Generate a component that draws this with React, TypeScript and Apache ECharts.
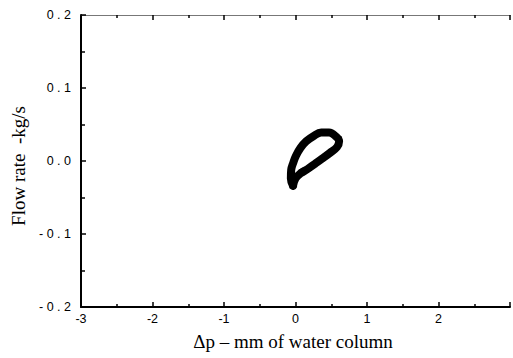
import React, { useEffect, useRef } from "react";
import * as echarts from "echarts";

// Pressure difference (mm of water column) and flow rate (kg/s) around one hysteresis loop
const deltaP = [
  -0.035, -0.065, -0.06, -0.03, 0.005, 0.07, 0.15, 0.25, 0.36, 0.47, 0.56, 0.61,
  0.58, 0.48, 0.37, 0.27, 0.17, 0.07, 0.0, -0.035,
];
const flowRate = [
  -0.034, -0.024, -0.012, -0.002, 0.007, 0.018, 0.027, 0.034, 0.039, 0.039, 0.034,
  0.027, 0.019, 0.011, 0.003, -0.004, -0.011, -0.017, -0.024, -0.034,
];

// Short stray traces off the loop (null breaks them into separate strokes)
const spurX = [0.04, 0.17, null, 0.58, 0.65, null, 0.57, 0.64];
const spurY = [-0.013, -0.007, null, 0.030, 0.033, null, 0.022, 0.021];

const xTicks = [-3, -2, -1, 0, 1, 2];
const yTicks = [-0.2, -0.1, 0.0, 0.1, 0.2];

const spaced = (s: string) => s.split("").join(" ");

export default function App() {
  const ref = useRef<HTMLDivElement>(null);

  useEffect(() => {
    if (!ref.current) return;
    const chart = echarts.init(ref.current, null, { renderer: "svg" });
    const loop = deltaP.map((x, i) => [x, flowRate[i]]);
    const spurs = spurX.map((x, i) => (x === null ? [null, null] : [x, spurY[i]]));
    const tickFont = { fontFamily: "Liberation Sans, Arial, sans-serif", fontSize: 12.5, color: "#000" };
    const titleFont = { fontFamily: "Liberation Serif, Times New Roman, serif", fontSize: 19, color: "#000" };

    chart.setOption({
      animation: false,
      backgroundColor: "#fff",
      grid: { left: 81, top: 15, bottom: 51, right: -7 },
      xAxis: [
        {
          type: "value",
          position: "bottom",
          min: -3,
          max: 3,
          interval: 1,
          name: "Δp – mm of water column",
          nameLocation: "middle",
          nameGap: 25,
          nameTextStyle: { ...titleFont, padding: [0, 5, 0, 0] },
          axisLine: { onZero: false, lineStyle: { color: "#000", width: 2 } },
          axisTick: { inside: true, length: 5, lineStyle: { color: "#000", width: 1.5 } },
          minorTick: { show: true, splitNumber: 2, length: 3, lineStyle: { color: "#000", width: 1.5 } },
          axisLabel: {
            ...tickFont,
            margin: 5,
            formatter: (v: number) => (xTicks.includes(v) ? String(v) : ""),
          },
          splitLine: { show: false },
        },
        {
          type: "value",
          position: "top",
          min: -3,
          max: 3,
          interval: 1,
          axisLine: { onZero: false, lineStyle: { color: "#777", width: 1 } },
          axisTick: { inside: true, length: 5, lineStyle: { color: "#000", width: 1.5 } },
          minorTick: { show: true, splitNumber: 2, length: 3, lineStyle: { color: "#000", width: 1.5 } },
          axisLabel: { show: false },
          splitLine: { show: false },
        },
      ],
      yAxis: {
        type: "value",
        min: -0.2,
        max: 0.2,
        interval: 0.1,
        name: "Flow rate  -kg/s",
        nameLocation: "middle",
        nameGap: 42,
        nameTextStyle: { ...titleFont, padding: [0, 10, 0, 0] },
        axisLine: { onZero: false, lineStyle: { color: "#000", width: 2 } },
        axisTick: { inside: true, length: 5, lineStyle: { color: "#000", width: 1.5 } },
        minorTick: { show: true, splitNumber: 2, length: 4, lineStyle: { color: "#000", width: 1.5 } },
        axisLabel: {
          ...tickFont,
          margin: 10,
          formatter: (v: number) => {
            const t = yTicks.find((y) => Math.abs(y - v) < 1e-9);
            return t === undefined ? "" : spaced(t.toFixed(1));
          },
        },
        splitLine: { show: false },
      },
      series: [
        {
          type: "line",
          xAxisIndex: 0,
          data: loop,
          smooth: 0.4,
          showSymbol: false,
          lineStyle: { color: "#000", width: 8, join: "round", cap: "round" },
        },
        {
          type: "line",
          xAxisIndex: 0,
          data: spurs,
          connectNulls: false,
          showSymbol: false,
          lineStyle: { color: "#000", width: 1.2 },
        },
      ],
    });
    return () => chart.dispose();
  }, []);

  return <div ref={ref} style={{ width: 513, height: 358, position: "absolute", left: 0, top: 0 }} />;
}
